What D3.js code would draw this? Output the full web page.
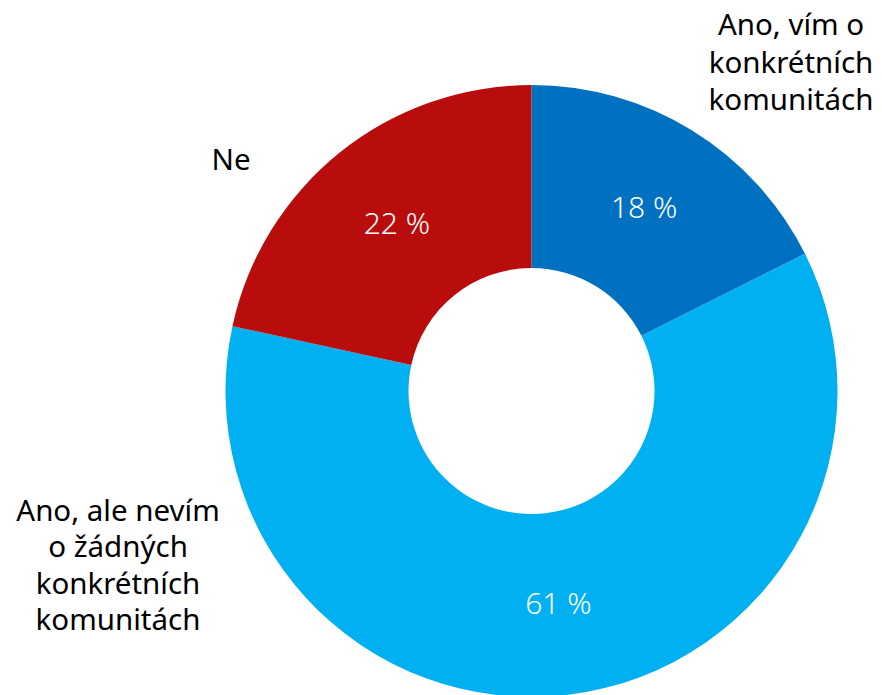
<!DOCTYPE html>
<html>
<head>
<meta charset="utf-8">
<script src="https://cdn.jsdelivr.net/npm/d3@7"></script>
<style>
  body { margin: 0; background: #fff; }
  svg { display: block; }
  text { font-family: "Segoe UI", "Noto Sans", sans-serif; }
</style>
</head>
<body>
<svg id="chart"></svg>
<script>
const categories = ["Ano, vím o konkrétních komunitách", "Ano, ale nevím o žádných konkrétních komunitách", "Ne"];
const values = [17.6, 60.8, 21.6];
const valueLabels = ["18 %", "61 %", "22 %"];
const colors = ["#0070C0", "#00B0F0", "#B90D0D"];
// category labels split into lines
const labelLines = [
    ["Ano, vím o", "konkrétních", "komunitách"],
    ["Ano, ale nevím", "o žádných", "konkrétních", "komunitách"],
    ["Ne"]
];

const width = 882, height = 695;
const cx = 531.5, cy = 391;
const outerR = 306, innerR = 123;

const svg = d3.select('#chart')
    .attr('width', width)
    .attr('height', height);

const pie = d3.pie().sort(null).value(d => d);
const arcs = pie(values);

const arc = d3.arc()
    .innerRadius(innerR)
    .outerRadius(outerR);

const g = svg.append('g')
    .attr('transform', 'translate(' + cx + ',' + cy + ')');

g.selectAll('path')
    .data(arcs)
    .enter().append('path')
    .attr('d', arc)
    .attr('fill', (d, i) => colors[i]);

// percentage labels at the centroid of each slice
g.selectAll('text.val')
    .data(arcs)
    .enter().append('text')
    .attr('class', 'val')
    .attr('x', d => arc.centroid(d)[0])
    .attr('y', d => arc.centroid(d)[1] + 10)
    .attr('text-anchor', 'middle')
    .attr('fill', '#fff')
    .attr('font-size', 30)
    .attr('font-weight', 300)
    .text((d, i) => valueLabels[i]);

// outside category labels
const labelPos = [
    {x: 791, y: 35, step: 37.5},
    {x: 118, y: 521, step: 36.3},
    {x: 231, y: 170, step: 36}
];

labelLines.forEach((lines, i) => {
    const t = svg.append('text')
        .attr('text-anchor', 'middle')
        .attr('font-size', 29.5)
        .attr('fill', '#000');
    lines.forEach((line, j) => {
        t.append('tspan')
            .attr('x', labelPos[i].x)
            .attr('y', labelPos[i].y + j * labelPos[i].step)
            .text(line);
    });
});
</script>
</body>
</html>
